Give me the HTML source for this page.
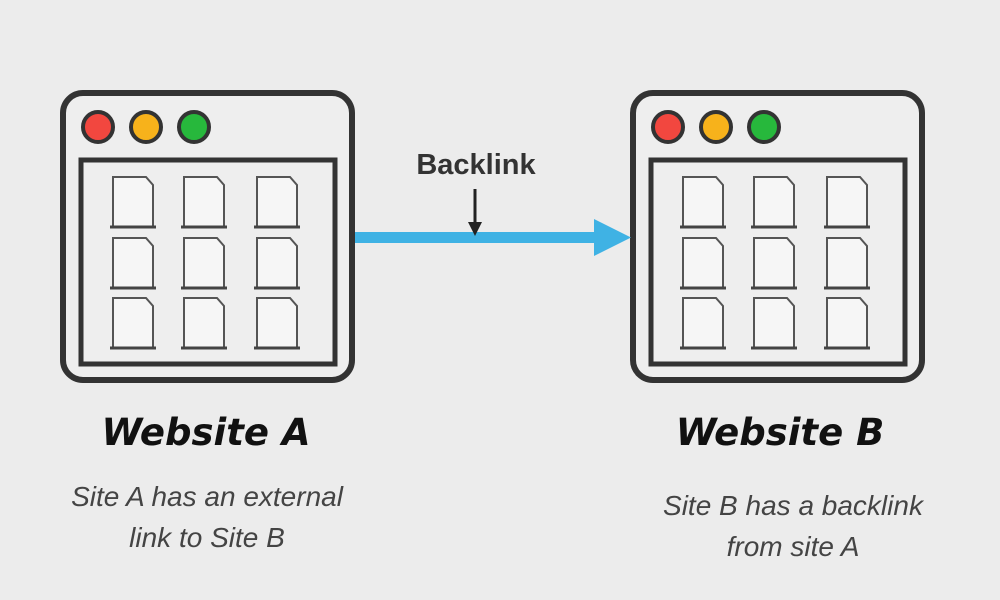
<!DOCTYPE html>
<html><head><meta charset="utf-8"><style>
html,body{margin:0;padding:0;background:#ececec;}
svg{display:block}
</style></head><body>
<svg width="1000" height="600" viewBox="0 0 1000 600">
<rect width="1000" height="600" fill="#ececec"/>
<defs>
<g id="doc">
<path d="M0,49 V0 H33 L40,8 V49" fill="#f6f6f6" stroke="#555" stroke-width="2"/>
<line x1="-3" y1="50" x2="43" y2="50" stroke="#444" stroke-width="3"/>
</g>
<g id="win">
<rect x="63" y="93" width="289" height="287" rx="20" fill="#eeeeee" stroke="#333" stroke-width="6"/>
<circle cx="98" cy="127" r="15" fill="#f2473f" stroke="#333" stroke-width="4"/>
<circle cx="146" cy="127" r="15" fill="#f7b21b" stroke="#333" stroke-width="4"/>
<circle cx="194" cy="127" r="15" fill="#27b83c" stroke="#333" stroke-width="4"/>
<rect x="81" y="160" width="254" height="204" fill="#eeeeee" stroke="#333" stroke-width="5"/>
<use href="#doc" x="113" y="177"/><use href="#doc" x="184" y="177"/><use href="#doc" x="257" y="177"/>
<use href="#doc" x="113" y="238"/><use href="#doc" x="184" y="238"/><use href="#doc" x="257" y="238"/>
<use href="#doc" x="113" y="298"/><use href="#doc" x="184" y="298"/><use href="#doc" x="257" y="298"/>
</g>
</defs>
<use href="#win"/>
<use href="#win" x="570"/>
<rect x="355" y="232" width="242" height="11" fill="#3fb2e4"/>
<polygon points="594,219 631,237.5 594,256" fill="#3fb2e4"/>
<text x="476" y="174" font-family="Liberation Sans, sans-serif" font-size="29" font-weight="bold" fill="#333" text-anchor="middle">Backlink</text>
<line x1="475" y1="189" x2="475" y2="226" stroke="#222" stroke-width="3"/>
<polygon points="468,222 482,222 475,236" fill="#222"/>
<g font-family="DejaVu Sans, sans-serif" font-weight="bold" font-style="italic" font-size="37" fill="#111" text-anchor="middle">
<text x="206" y="445">Website A</text>
<text x="780" y="445">Website B</text>
</g>
<g font-family="Liberation Sans, sans-serif" font-style="italic" font-size="28" fill="#444" text-anchor="middle">
<text x="207" y="506">Site A has an external</text>
<text x="207" y="547">link to Site B</text>
<text x="793" y="515">Site B has a backlink</text>
<text x="793" y="556">from site A</text>
</g>
</svg>
</body></html>
